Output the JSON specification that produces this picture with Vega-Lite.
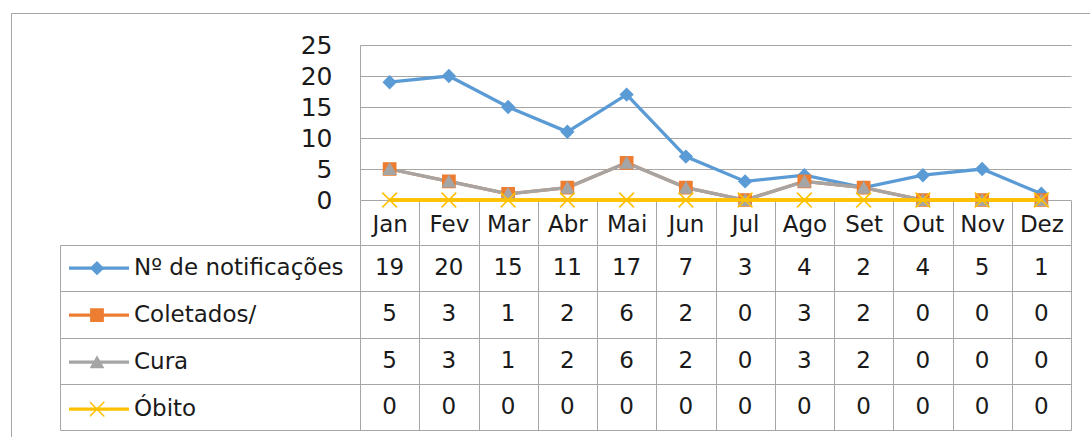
{
  "$schema": "https://vega.github.io/schema/vega-lite/v6.json",
  "width": 1099,
  "height": 444,
  "padding": {"left": 11, "top": 13, "right": -20, "bottom": -20},
  "autosize": {"type": "none"},
  "background": "white",
  "config": {
    "view": {"stroke": "#a6a6a6", "strokeWidth": 1},
    "font": "DejaVu Sans"
  },
  "data": {
    "values": [
      {"month": "Jan", "series": "Nº de notificações", "value": 19},
      {"month": "Fev", "series": "Nº de notificações", "value": 20},
      {"month": "Mar", "series": "Nº de notificações", "value": 15},
      {"month": "Abr", "series": "Nº de notificações", "value": 11},
      {"month": "Mai", "series": "Nº de notificações", "value": 17},
      {"month": "Jun", "series": "Nº de notificações", "value": 7},
      {"month": "Jul", "series": "Nº de notificações", "value": 3},
      {"month": "Ago", "series": "Nº de notificações", "value": 4},
      {"month": "Set", "series": "Nº de notificações", "value": 2},
      {"month": "Out", "series": "Nº de notificações", "value": 4},
      {"month": "Nov", "series": "Nº de notificações", "value": 5},
      {"month": "Dez", "series": "Nº de notificações", "value": 1},
      {"month": "Jan", "series": "Coletados/", "value": 5},
      {"month": "Fev", "series": "Coletados/", "value": 3},
      {"month": "Mar", "series": "Coletados/", "value": 1},
      {"month": "Abr", "series": "Coletados/", "value": 2},
      {"month": "Mai", "series": "Coletados/", "value": 6},
      {"month": "Jun", "series": "Coletados/", "value": 2},
      {"month": "Jul", "series": "Coletados/", "value": 0},
      {"month": "Ago", "series": "Coletados/", "value": 3},
      {"month": "Set", "series": "Coletados/", "value": 2},
      {"month": "Out", "series": "Coletados/", "value": 0},
      {"month": "Nov", "series": "Coletados/", "value": 0},
      {"month": "Dez", "series": "Coletados/", "value": 0},
      {"month": "Jan", "series": "Cura", "value": 5},
      {"month": "Fev", "series": "Cura", "value": 3},
      {"month": "Mar", "series": "Cura", "value": 1},
      {"month": "Abr", "series": "Cura", "value": 2},
      {"month": "Mai", "series": "Cura", "value": 6},
      {"month": "Jun", "series": "Cura", "value": 2},
      {"month": "Jul", "series": "Cura", "value": 0},
      {"month": "Ago", "series": "Cura", "value": 3},
      {"month": "Set", "series": "Cura", "value": 2},
      {"month": "Out", "series": "Cura", "value": 0},
      {"month": "Nov", "series": "Cura", "value": 0},
      {"month": "Dez", "series": "Cura", "value": 0},
      {"month": "Jan", "series": "Óbito", "value": 0},
      {"month": "Fev", "series": "Óbito", "value": 0},
      {"month": "Mar", "series": "Óbito", "value": 0},
      {"month": "Abr", "series": "Óbito", "value": 0},
      {"month": "Mai", "series": "Óbito", "value": 0},
      {"month": "Jun", "series": "Óbito", "value": 0},
      {"month": "Jul", "series": "Óbito", "value": 0},
      {"month": "Ago", "series": "Óbito", "value": 0},
      {"month": "Set", "series": "Óbito", "value": 0},
      {"month": "Out", "series": "Óbito", "value": 0},
      {"month": "Nov", "series": "Óbito", "value": 0},
      {"month": "Dez", "series": "Óbito", "value": 0}
    ]
  },
  "layer": [
    {
      "layer": [
        {
          "mark": {"type": "line", "strokeWidth": 3.3},
          "encoding": {
            "x": {
              "field": "month", "type": "nominal",
              "sort": ["Jan", "Fev", "Mar", "Abr", "Mai", "Jun", "Jul", "Ago", "Set", "Out", "Nov", "Dez"],
              "bandPosition": 0.5,
              "scale": {"type": "band", "range": [349, 1060], "paddingInner": 0, "paddingOuter": 0},
              "axis": {
                "orient": "bottom", "offset": -257, "domain": false, "grid": false,
                "ticks": true, "tickBand": "extent", "tickSize": 230, "tickColor": "#a6a6a6", "tickWidth": 1,
                "labelPadding": -199, "labelBaseline": "alphabetic", "labelAngle": 0,
                "labelFont": "DejaVu Sans", "labelFontSize": 23, "labelColor": "#1a1a1a",
                "labelOverlap": false, "labelFlush": false, "title": null
              }
            },
            "y": {
              "field": "value", "type": "quantitative",
              "scale": {"domain": [0, 25], "range": [187, 32], "nice": false},
              "axis": {
                "orient": "left", "offset": -349, "domain": true, "domainColor": "#a6a6a6",
                "ticks": false, "grid": true, "gridColor": "#a6a6a6", "values": [0, 5, 10, 15, 20, 25],
                "labelPadding": 28, "labelFont": "DejaVu Sans", "labelFontSize": 25, "labelColor": "#1a1a1a",
                "labelBaseline": "middle", "title": null
              }
            },
            "color": {
              "field": "series", "type": "nominal",
              "sort": ["Nº de notificações", "Coletados/", "Cura", "Óbito"],
              "scale": {"range": ["#5B9BD5", "#ED7D31", "#A5A5A5", "#FFC000"]},
              "legend": {
                "orient": "none", "legendX": 56, "legendY": 232, "title": null,
                "symbolType": "stroke", "symbolSize": 3600, "symbolStrokeWidth": 3.3,
                "labelFont": "DejaVu Sans", "labelFontSize": 23, "labelColor": "#1a1a1a", "labelOffset": 3,
                "labelLimit": 400, "clipHeight": 46.25, "rowPadding": 0, "padding": 0, "symbolOffset": 0
              }
            }
          }
        },
        {
          "mark": {"type": "point", "filled": true, "opacity": 1, "strokeWidth": 1.5, "size": 150},
          "encoding": {
            "x": {"field": "month", "type": "nominal", "sort": ["Jan", "Fev", "Mar", "Abr", "Mai", "Jun", "Jul", "Ago", "Set", "Out", "Nov", "Dez"], "bandPosition": 0.5},
            "y": {"field": "value", "type": "quantitative"},
            "shape": {
              "field": "series", "type": "nominal",
              "scale": {"domain": ["Nº de notificações", "Coletados/", "Cura", "Óbito"], "range": ["diamond", "square", "triangle-up", "M-1.2,-1.2L1.2,1.2M1.2,-1.2L-1.2,1.2"]},
              "legend": {
                "orient": "none", "legendX": 79, "legendY": 232, "title": null,
                "symbolSize": 150, "symbolStrokeWidth": 1.5, "symbolOpacity": 1, "symbolFillColor": "#ffffff",
                "labelOpacity": 0, "labelFontSize": 1, "clipHeight": 46.25, "rowPadding": 0, "padding": 0, "symbolOffset": 0
              }
            },
            "fill": {
              "field": "series", "type": "nominal",
              "scale": {"domain": ["Nº de notificações", "Coletados/", "Cura", "Óbito"], "range": ["#5B9BD5", "#ED7D31", "#A5A5A5", "#FFC000"]},
              "legend": {
                "orient": "none", "legendX": 79, "legendY": 232, "title": null,
                "symbolSize": 150, "symbolStrokeWidth": 1.5, "symbolOpacity": 1, "symbolFillColor": "#ffffff",
                "labelOpacity": 0, "labelFontSize": 1, "clipHeight": 46.25, "rowPadding": 0, "padding": 0, "symbolOffset": 0
              }
            },
            "stroke": {
              "field": "series", "type": "nominal",
              "scale": {"domain": ["Nº de notificações", "Coletados/", "Cura", "Óbito"], "range": ["#5B9BD5", "#ED7D31", "#A5A5A5", "#FFC000"]},
              "legend": {
                "orient": "none", "legendX": 79, "legendY": 232, "title": null,
                "symbolSize": 150, "symbolStrokeWidth": 1.5, "symbolOpacity": 1, "symbolFillColor": "#ffffff",
                "labelOpacity": 0, "labelFontSize": 1, "clipHeight": 46.25, "rowPadding": 0, "padding": 0, "symbolOffset": 0
              }
            }
          }
        },
        {
          "transform": [{"filter": {"field": "series", "equal": "Óbito"}}],
          "mark": {"type": "line", "strokeWidth": 3.3, "color": "#FFC000"},
          "encoding": {
            "x": {"field": "month", "type": "nominal", "sort": ["Jan", "Fev", "Mar", "Abr", "Mai", "Jun", "Jul", "Ago", "Set", "Out", "Nov", "Dez"], "bandPosition": 0.5},
            "y": {"field": "value", "type": "quantitative"}
          }
        }
      ]
    },
    {
      "mark": {"type": "text", "font": "DejaVu Sans", "fontSize": 23, "color": "#1a1a1a", "baseline": "middle"},
      "encoding": {
        "x": {"field": "month", "type": "nominal", "sort": ["Jan", "Fev", "Mar", "Abr", "Mai", "Jun", "Jul", "Ago", "Set", "Out", "Nov", "Dez"], "bandPosition": 0.5},
        "y": {
          "field": "series", "type": "nominal", "bandPosition": 0.5,
          "scale": {"type": "band", "domain": ["Nº de notificações", "Coletados/", "Cura", "Óbito"], "range": [232, 417], "paddingInner": 0, "paddingOuter": 0},
          "axis": {
            "orient": "left", "offset": -49, "domain": true, "domainColor": "#a6a6a6",
            "ticks": true, "tickBand": "extent", "tickSize": -1011, "tickColor": "#a6a6a6", "tickWidth": 1,
            "labels": false, "grid": false, "title": null
          }
        },
        "text": {"field": "value", "type": "quantitative"}
      }
    }
  ],
  "resolve": {"scale": {"y": "independent"}}
}
